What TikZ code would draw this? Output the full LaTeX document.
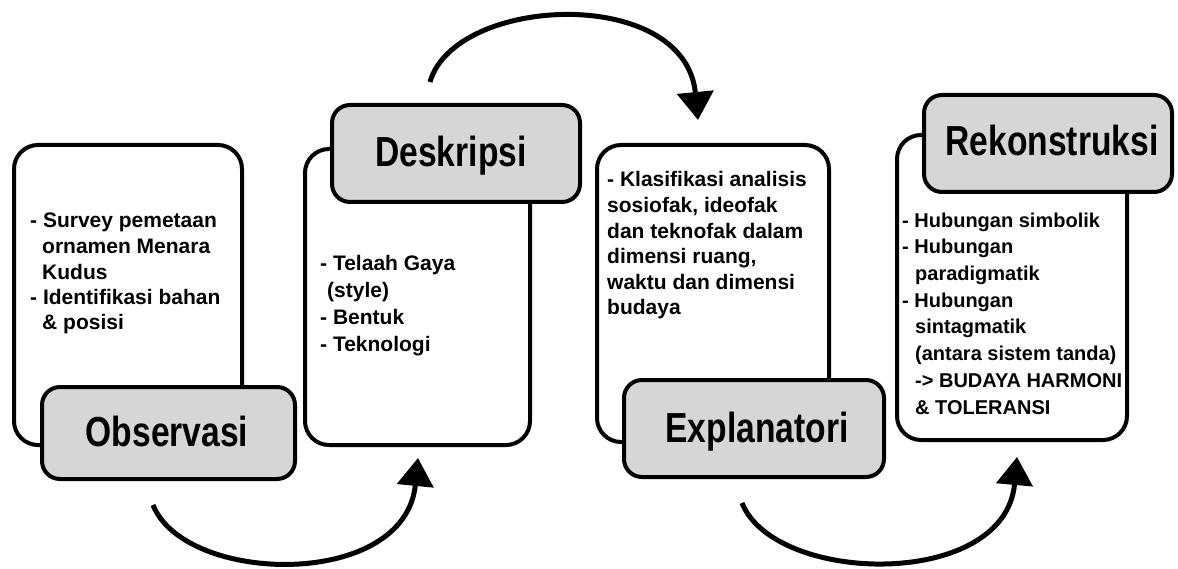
\documentclass[tikz,border=0pt]{standalone}
\usepackage{fontspec}
\setmainfont{Liberation Sans}
\newfontfamily\titlefont{Liberation Sans}[FakeStretch=0.8]
\usetikzlibrary{arrows.meta}
\definecolor{boxgray}{RGB}{214,214,216}
\tikzset{
  whitebox/.style={draw=black, line width=4pt, rounded corners=24pt, fill=white, anchor=north west, inner sep=0pt},
  graybox/.style={draw=black, line width=4pt, rounded corners=18pt, fill=boxgray, anchor=north west, inner sep=0pt},
  titletext/.style={font=\titlefont\bfseries\fontsize{42}{46}\selectfont, anchor=base, inner sep=0pt},
  bodytext/.style={font=\bfseries\fontsize{21}{25.5}\selectfont, align=left, anchor=base west, inner sep=0pt},
  flow/.style={line width=5pt, -{Triangle[length=28pt,width=36pt]}},
}
\begin{document}
\begin{tikzpicture}[x=1pt,y=-1pt]
\useasboundingbox (0,0) rectangle (1178,569);
% Observasi
\node[whitebox, minimum width=228pt, minimum height=300pt] (w1) at (12,143) {};
\node[graybox, minimum width=253pt, minimum height=92pt] (g1) at (40,385) {};
\node[titletext] (t1) at (167,446) {Observasi};
\node[bodytext] (b1) at (30,330) {- Survey pemetaan\\\hspace*{12pt}ornamen Menara\\\hspace*{12pt}Kudus\\- Identifikasi bahan\\\hspace*{12pt}\& posisi};
% Deskripsi
\node[whitebox, minimum width=225pt, minimum height=296pt] (w2) at (303,147) {};
\node[graybox, minimum width=248pt, minimum height=97pt] (g2) at (330,103) {};
\node[titletext] (t2) at (451,167) {Deskripsi};
\node[bodytext, font=\bfseries\fontsize{21}{27}\selectfont] (b2) at (320,351) {- Telaah Gaya\\\hspace*{7pt}(style)\\- Bentuk\\- Teknologi};
% Explanatori
\node[whitebox, minimum width=232pt, minimum height=297pt] (w3) at (595,143) {};
\node[graybox, minimum width=260pt, minimum height=97pt] (g3) at (622,378) {};
\node[titletext] (t3) at (757,442) {Explanatori};
\node[bodytext, font=\bfseries\fontsize{21}{25.6}\selectfont] (b3) at (607,315) {- Klasifikasi analisis\\sosiofak, ideofak\\dan teknofak dalam\\dimensi ruang,\\waktu dan dimensi\\budaya};
% Rekonstruksi
\node[whitebox, minimum width=230pt, minimum height=305pt] (w4) at (895,133) {};
\node[graybox, minimum width=248pt, minimum height=97pt] (g4) at (922,93) {};
\node[titletext] (t4) at (1052,156) {Rekonstruksi};
\node[bodytext, font=\bfseries\fontsize{20}{26.7}\selectfont] (b4) at (902,414) {- Hubungan simbolik\\- Hubungan\\\hspace*{13pt}paradigmatik\\- Hubungan\\\hspace*{13pt}sintagmatik\\\hspace*{13pt}(antara sistem tanda)\\\hspace*{13pt}-> BUDAYA HARMONI\\\hspace*{13pt}\& TOLERANSI};
% arrows
\coordinate (a1s) at (153,505);
\coordinate (a1e) at (418,458);
\draw[flow] (a1s) .. controls (185,585) and (405,590) .. (a1e);
\coordinate (a2s) at (430,82);
\coordinate (a2e) at (698,120);
\draw[flow] (a2s) .. controls (455,-5) and (685,-15) .. (a2e);
\coordinate (a3s) at (742,503);
\coordinate (a3e) at (1017,457);
\draw[flow] (a3s) .. controls (775,585) and (1005,590) .. (a3e);
\end{tikzpicture}
\end{document}
